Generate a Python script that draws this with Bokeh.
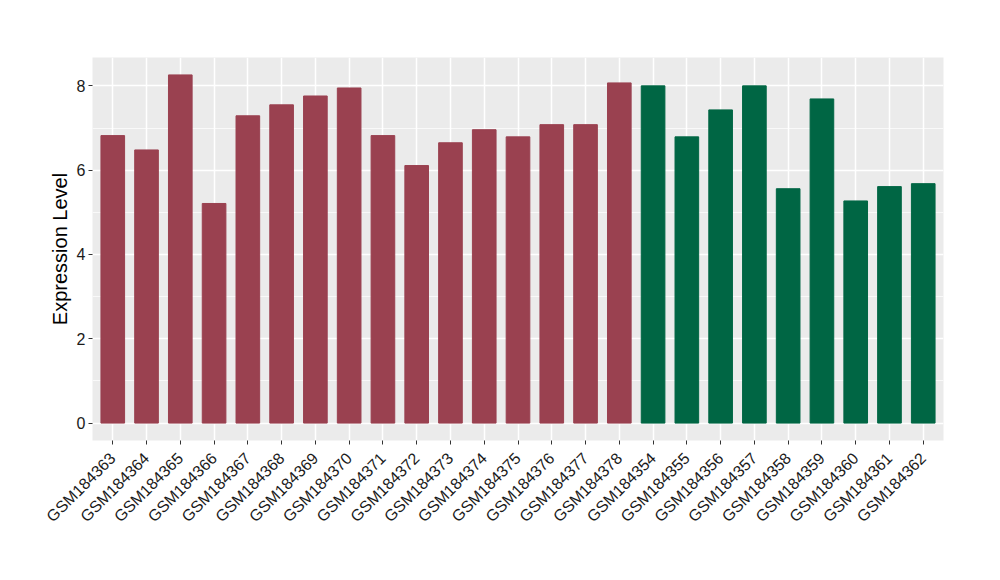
import math
from bokeh.plotting import figure
from bokeh.models import Range1d, FixedTicker, ColumnDataSource
from bokeh.embed import file_html
from bokeh.resources import INLINE

samples = ["GSM184363", "GSM184364", "GSM184365", "GSM184366", "GSM184367",
           "GSM184368", "GSM184369", "GSM184370", "GSM184371", "GSM184372",
           "GSM184373", "GSM184374", "GSM184375", "GSM184376", "GSM184377",
           "GSM184378", "GSM184354", "GSM184355", "GSM184356", "GSM184357",
           "GSM184358", "GSM184359", "GSM184360", "GSM184361", "GSM184362"]
values = [6.82, 6.48, 8.26, 5.21, 7.29, 7.55, 7.76, 7.95, 6.82, 6.11,
          6.65, 6.96, 6.79, 7.08, 7.08, 8.07, 8.00, 6.79, 7.43, 8.00,
          5.56, 7.69, 5.27, 5.61, 5.68]
groups = ["A"] * 16 + ["B"] * 9
group_colors = {"A": "#9A4150", "B": "#006644"}
y_ticks = [0, 2, 4, 6, 8]

xpos = list(range(1, len(samples) + 1))
src = ColumnDataSource(dict(x=xpos, top=values, name=samples,
                            color=[group_colors[g] for g in groups]))

vmax = max(values)
pad = vmax * 0.05
p = figure(width=984, height=564, output_backend="svg", toolbar_location=None,
           x_range=Range1d(0.4, len(samples) + 0.6),
           y_range=Range1d(-pad, vmax + pad),
           min_border_left=92, min_border_right=41,
           min_border_top=57, min_border_bottom=124)
p.outline_line_color = None
p.background_fill_color = "#EBEBEB"
p.border_fill_color = "white"

p.vbar(x="x", top="top", bottom=0, width=0.7, color="color", source=src)

p.xaxis.ticker = FixedTicker(ticks=xpos)
p.xaxis.major_label_overrides = {i: s for i, s in zip(xpos, samples)}
p.xaxis.major_label_orientation = math.pi / 4
p.yaxis.ticker = FixedTicker(ticks=y_ticks, minor_ticks=[1, 3, 5, 7])

for ax in (p.xaxis, p.yaxis):
    ax.axis_line_color = None
    ax.major_tick_line_color = "#333333"
    ax.major_tick_out = 4
    ax.major_tick_in = 0
    ax.minor_tick_line_color = None
    ax.major_label_text_font = "Liberation Sans"
    ax.major_label_text_font_size = "16px"
    ax.major_label_text_color = "#1A1A1A"
    ax.major_label_standoff = 3
p.xaxis.major_label_standoff = 11

p.yaxis.axis_label = "Expression Level"
p.yaxis.axis_label_text_font = "Liberation Sans"
p.yaxis.axis_label_text_font_size = "20px"
p.yaxis.axis_label_text_font_style = "normal"
p.yaxis.axis_label_text_color = "black"
p.yaxis.axis_label_standoff = 3

p.xgrid.grid_line_color = "white"
p.xgrid.grid_line_width = 1.5
p.ygrid.grid_line_color = "white"
p.ygrid.grid_line_width = 1.5
p.ygrid.minor_grid_line_color = "white"
p.ygrid.minor_grid_line_width = 0.7

open("out.html", "w").write(file_html(p, INLINE))
